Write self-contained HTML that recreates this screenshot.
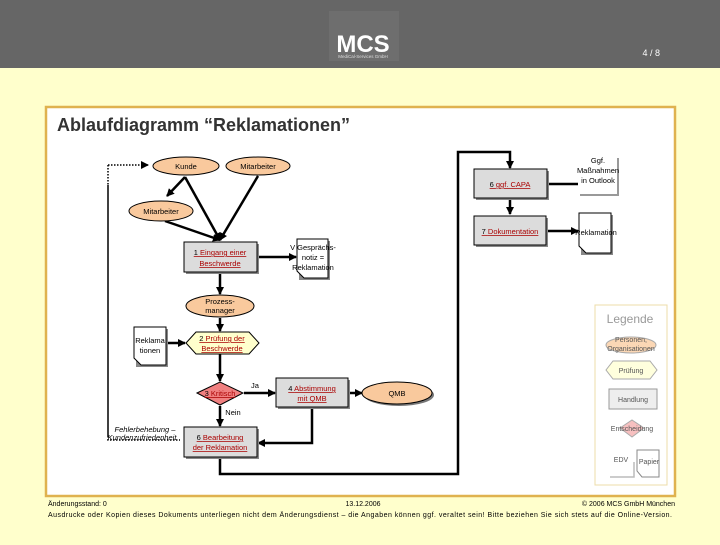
<!DOCTYPE html>
<html><head><meta charset="utf-8"><style>
body{margin:0;width:720px;height:540px;background:#ffffcc;font-family:"Liberation Sans",sans-serif;overflow:hidden;position:relative}
</style></head><body>
<svg width="720" height="540" viewBox="0 0 720 540" xmlns="http://www.w3.org/2000/svg" font-family="Liberation Sans, sans-serif">
<defs>
<marker id="a" markerWidth="8" markerHeight="8" refX="7" refY="4" orient="auto" markerUnits="userSpaceOnUse"><path d="M0,0 L8,4 L0,8z" fill="#000"/></marker>
</defs>
<rect x="0" y="0" width="720" height="68" fill="#666"/>
<rect x="329" y="11" width="70" height="50" fill="#6e6e6e"/>
<text x="363" y="52" font-size="24" font-weight="bold" fill="#fff" text-anchor="middle">MCS</text>
<text x="363" y="58" font-size="4.5" fill="#ddd" text-anchor="middle">MediCal-Services GmbH</text>
<text x="660" y="56" font-size="9" fill="#fff" text-anchor="end">4 / 8</text>
<rect x="46" y="107" width="629" height="389" fill="#fff" stroke="#dfb24f" stroke-width="2.5"/>
<text x="57" y="131" font-size="18" font-weight="bold" fill="#333" textLength="293" lengthAdjust="spacingAndGlyphs">Ablaufdiagramm “Reklamationen”</text>
<g stroke="#000" stroke-width="2.5" fill="none">
<path d="M108,165 V185" stroke-dasharray="1.5,1.5" stroke-width="1.5"/>
<path d="M108,185 V436" stroke-width="1.5"/>
<path d="M108,165 H148" stroke-dasharray="1.5,1.5" stroke-width="1.5" marker-end="url(#a)"/>
<path d="M108,436 V440 H180" stroke-dasharray="1.5,1.5" stroke-width="1.5"/>
<path d="M185,177 L167,196" marker-end="url(#a)"/>
<path d="M185,177 L220,240" marker-end="url(#a)"/>
<path d="M258,176 L220,240" marker-end="url(#a)"/>
<path d="M165,221 L220,240" marker-end="url(#a)"/>
<path d="M258,257 L296,257" marker-end="url(#a)"/>
<path d="M220,274 V294" marker-end="url(#a)"/>
<path d="M220,318 V331" marker-end="url(#a)"/>
<path d="M166,343 L185,343" marker-end="url(#a)"/>
<path d="M220,354 V381" marker-end="url(#a)"/>
<path d="M244,393 H275" marker-end="url(#a)"/>
<path d="M349,393 H362" marker-end="url(#a)"/>
<path d="M220,406 V426" marker-end="url(#a)"/>
<path d="M312,408 V443 H258" marker-end="url(#a)"/>
<path d="M220,458 V474 H458 V152 H510 V168" marker-end="url(#a)"/>
<path d="M510,199 V214" marker-end="url(#a)"/>
<path d="M548,184 H578"/>
<path d="M547,231 H578" marker-end="url(#a)"/>
</g>
<g font-size="7.5" text-anchor="middle">
<ellipse cx="186" cy="166" rx="33" ry="9" fill="#f9c99d" stroke="#000"/>
<text x="186" y="169">Kunde</text>
<ellipse cx="258" cy="166" rx="32" ry="9" fill="#f9c99d" stroke="#000"/>
<text x="258" y="169">Mitarbeiter</text>
<ellipse cx="161" cy="211" rx="32" ry="10" fill="#f9c99d" stroke="#000"/>
<text x="161" y="214">Mitarbeiter</text>
<rect x="186" y="244" width="73" height="30" fill="#888"/>
<rect x="184" y="242" width="73" height="30" fill="#dcdcdc" stroke="#000"/>
<text x="220" y="255" fill="#a00" text-decoration="underline"><tspan fill="#000">1 </tspan>Eingang einer</text>
<text x="220" y="266" fill="#a00" text-decoration="underline">Beschwerde</text>
<path d="M299,241 H330 V280 H299z" fill="#888"/>
<path d="M297,239 H328 V278 H304 L297,271z" fill="#fff" stroke="#000"/>
<text x="313" y="250">V Gesprächs-</text><text x="313" y="260">notiz =</text><text x="313" y="270">Reklamation</text>
<ellipse cx="220" cy="306" rx="34" ry="11" fill="#f9c99d" stroke="#000"/>
<text x="220" y="304">Prozess-</text><text x="220" y="313">manager</text>
<path d="M136,329 H168 V367 H136z" fill="#888"/>
<path d="M134,327 H166 V365 H141 L134,358z" fill="#fff" stroke="#000"/>
<text x="150" y="343">Reklama</text><text x="150" y="353">tionen</text>
<path d="M186,343 L196,332 H249 L259,343 L249,354 H196z" fill="#ffffcc" stroke="#000"/>
<text x="222" y="341" fill="#a00" text-decoration="underline"><tspan fill="#000">2 </tspan>Prüfung der</text>
<text x="222" y="351" fill="#a00" text-decoration="underline">Beschwerde</text>
<path d="M197,393 L220,382 L243,393 L220,405z" fill="#f08080" stroke="#000"/>
<text x="220" y="396" fill="#a00" text-decoration="underline"><tspan fill="#000">3 </tspan>Kritisch</text>
<text x="255" y="388">Ja</text><text x="233" y="415">Nein</text>
<rect x="278" y="380" width="72" height="29" fill="#888"/>
<rect x="276" y="378" width="72" height="29" fill="#dcdcdc" stroke="#000"/>
<text x="312" y="391" fill="#a00" text-decoration="underline"><tspan fill="#000">4 </tspan>Abstimmung</text>
<text x="312" y="401" fill="#a00" text-decoration="underline">mit QMB</text>
<ellipse cx="399" cy="395" rx="35" ry="11" fill="#777"/>
<ellipse cx="397" cy="393" rx="35" ry="11" fill="#f9c99d" stroke="#000"/>
<text x="397" y="396">QMB</text>
<rect x="186" y="429" width="73" height="30" fill="#888"/>
<rect x="184" y="427" width="73" height="30" fill="#dcdcdc" stroke="#000"/>
<text x="220" y="440" fill="#a00" text-decoration="underline"><tspan fill="#000">6 </tspan>Bearbeitung</text>
<text x="220" y="450" fill="#a00" text-decoration="underline">der Reklamation</text>
<text x="145" y="432" font-style="italic">Fehlerbehebung –</text>
<text x="142" y="440" font-style="italic">Kundenzufriedenheit</text>
<rect x="476" y="171" width="73" height="29" fill="#888"/>
<rect x="474" y="169" width="73" height="29" fill="#dcdcdc" stroke="#000"/>
<text x="510" y="187" fill="#a00" text-decoration="underline"><tspan fill="#000">6 </tspan>ggf. CAPA</text>
<rect x="476" y="218" width="72" height="29" fill="#888"/>
<rect x="474" y="216" width="72" height="29" fill="#dcdcdc" stroke="#000"/>
<text x="510" y="234" fill="#a00" text-decoration="underline"><tspan fill="#000">7 </tspan>Dokumentation</text>
<path d="M580,195 H618 V158" fill="none" stroke="#999" stroke-width="2"/>
<text x="598" y="163">Ggf.</text><text x="598" y="173">Maßnahmen</text><text x="598" y="183">in Outlook</text>
<path d="M581,215 H613 V255 H581z" fill="#888"/>
<path d="M579,213 H611 V253 H586 L579,246z" fill="#fff" stroke="#000"/>
<text x="596" y="235">Reklamation</text>
</g>
<rect x="595" y="305" width="72" height="180" fill="#fff" stroke="#eedca8"/>
<g font-size="7" text-anchor="middle" fill="#555">
<text x="630" y="323" font-size="12" fill="#999">Legende</text>
<ellipse cx="631" cy="345" rx="25" ry="8" fill="#fbd7b5" stroke="#aaa"/>
<text x="631" y="342">Personen,</text><text x="631" y="351">Organisationen</text>
<path d="M606,370 L613,361 H650 L657,370 L650,379 H613z" fill="#ffffdd" stroke="#aaa"/>
<text x="631" y="373">Prüfung</text>
<rect x="609" y="389" width="48" height="20" fill="#eee" stroke="#999"/>
<text x="633" y="402">Handlung</text>
<path d="M620,428 L632,420 L644,428 L632,437z" fill="#f7c0c0" stroke="#aaa"/>
<text x="632" y="431">Entscheidung</text>
<path d="M610,477 H634 V462" fill="none" stroke="#bbb" stroke-width="1.5"/>
<text x="621" y="462">EDV</text>
<path d="M637,450 H659 V477 H642 L637,471z" fill="#fff" stroke="#888"/>
<text x="649" y="464">Papier</text>
</g>
<g font-size="7" fill="#000">
<text x="48" y="506">Änderungsstand: 0</text>
<text x="363" y="506" text-anchor="middle">13.12.2006</text>
<text x="675" y="506" text-anchor="end">© 2006 MCS GmbH München</text>
<text x="48" y="517" textLength="624">Ausdrucke oder Kopien dieses Dokuments unterliegen nicht dem Änderungsdienst – die Angaben können ggf. veraltet sein! Bitte beziehen Sie sich stets auf die Online-Version.</text>
</g>
</svg>
</body></html>
